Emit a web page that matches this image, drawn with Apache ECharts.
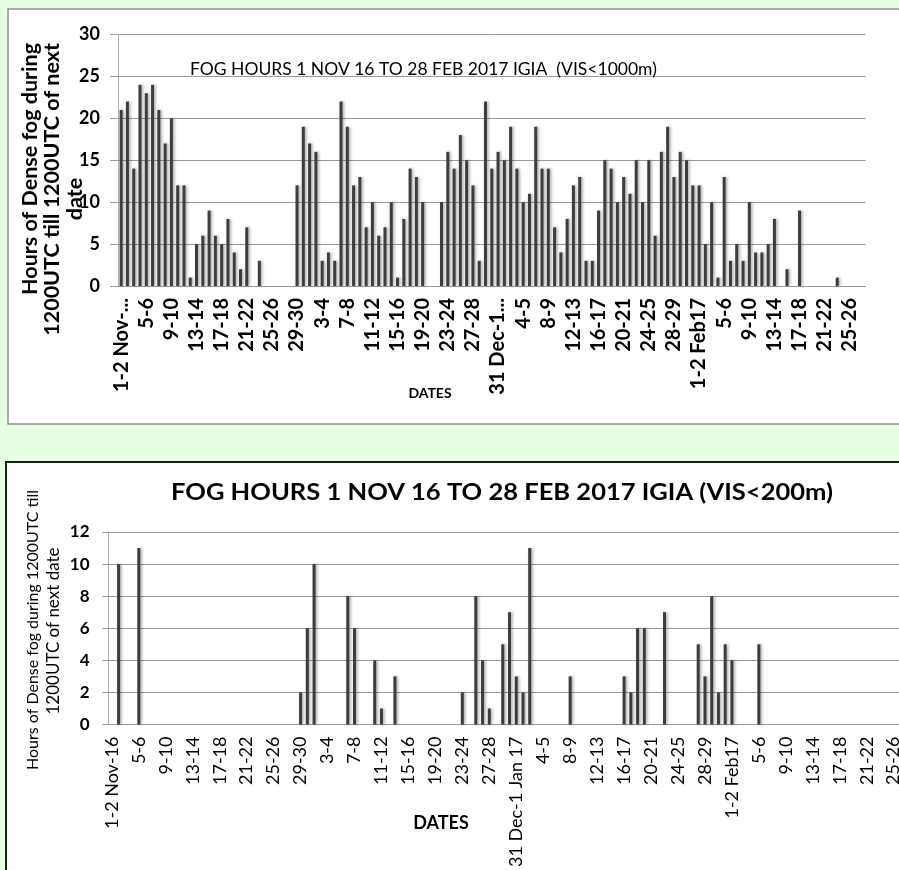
<!DOCTYPE html>
<html>
<head>
<meta charset="utf-8">
<script src="https://cdn.jsdelivr.net/npm/echarts@6/dist/echarts.min.js"></script>
<style>
  html, body { margin: 0; padding: 0; background: #e6fde4; overflow: hidden; }
  #chart { width: 915px; height: 870px; }
</style>
</head>
<body>
<div id="chart"></div>
<script>
// Night-by-night categories: "d-(d+1)" from 1 Nov 2016 to 27-28 Feb 2017
const monthSpans = [30, 31, 31, 27];
const monthLastDay = [30, 31, 31, 28];
const categories = [];
monthSpans.forEach(function (n, mi) {
  for (let d = 1; d <= n; d++) {
    categories.push(d + '-' + (d === monthLastDay[mi] ? 1 : d + 1));
  }
});
categories[0] = '1-2 Nov-16';
categories[60] = '31 Dec-1 Jan 17';
categories[92] = '1-2 Feb17';

// Shortened tick labels on the upper panel
const upperTickText = { '1-2 Nov-16': '1-2 Nov-...', '31 Dec-1 Jan 17': '31 Dec-1...' };

// Fog hours with visibility below 1000 m
const fogHours1000 = [
  21, 22, 14, 24, 23, 24, 21, 17, 20, 12,
  12, 1, 5, 6, 9, 6, 5, 8, 4, 2,
  7, 0, 3, 0, 0, 0, 0, 0, 12, 19,
  17, 16, 3, 4, 3, 22, 19, 12, 13, 7,
  10, 6, 7, 10, 1, 8, 14, 13, 10, 0,
  0, 10, 16, 14, 18, 15, 12, 3, 22, 14,
  16, 15, 19, 14, 10, 11, 19, 14, 14, 7,
  4, 8, 12, 13, 3, 3, 9, 15, 14, 10,
  13, 11, 15, 10, 15, 6, 16, 19, 13, 16,
  15, 12, 12, 5, 10, 1, 13, 3, 5, 3,
  10, 4, 4, 5, 8, 0, 2, 0, 9, 0,
  0, 0, 0, 0, 1, 0, 0, 0, 0
];

// Fog hours with visibility below 200 m
const fogHours200 = [
  0, 10, 0, 0, 11, 0, 0, 0, 0, 0,
  0, 0, 0, 0, 0, 0, 0, 0, 0, 0,
  0, 0, 0, 0, 0, 0, 0, 0, 2, 6,
  10, 0, 0, 0, 0, 8, 6, 0, 0, 4,
  1, 0, 3, 0, 0, 0, 0, 0, 0, 0,
  0, 0, 2, 0, 8, 4, 1, 0, 5, 7,
  3, 2, 11, 0, 0, 0, 0, 0, 3, 0,
  0, 0, 0, 0, 0, 0, 3, 2, 6, 6,
  0, 0, 7, 0, 0, 0, 0, 5, 3, 8,
  2, 5, 4, 0, 0, 0, 5, 0, 0, 0,
  0, 0, 0, 0, 0, 0, 0, 0, 0, 0,
  0, 0, 0, 0, 0, 0, 0, 0, 0
];

const upperTitle = 'FOG HOURS 1 NOV 16 TO 28 FEB 2017 IGIA  (VIS<1000m)';
const lowerTitle = 'FOG HOURS 1 NOV 16 TO 28 FEB 2017 IGIA (VIS<200m)';
const upperYName = ['Hours of Dense fog during', '1200UTC till 1200UTC of next', 'date'];
const lowerYName = ['Hours of Dense fog during 1200UTC till', '1200UTC of next date'];
const xName = 'DATES';

const FONT = 'Lato, "Open Sans", sans-serif';
const barStyle = {
  color: '#3d3d3d',
  shadowColor: 'rgba(0,0,0,0.35)',
  shadowBlur: 3,
  shadowOffsetX: 1.5
};

function vText(text, x, y, font, align) {
  return {
    type: 'text', x: x, y: y, rotation: Math.PI / 2, z: 50,
    style: { text: text, font: font, fill: '#000', align: align, verticalAlign: 'middle' }
  };
}

const chart = echarts.init(document.getElementById('chart'));
chart.setOption({
  animation: false,
  backgroundColor: '#e6fde4',
  graphic: [
    { type: 'rect', z: -10, shape: { x: 8, y: 9, width: 920, height: 415 },
      style: { fill: '#ffffff', stroke: '#8e8e8e', lineWidth: 1.5 } },
    { type: 'rect', z: -10, shape: { x: 6, y: 462, width: 920, height: 420 },
      style: { fill: '#ffffff', stroke: '#1c1c1c', lineWidth: 2 } },
    { type: 'text', x: 190, y: 69, z: 50,
      style: { text: upperTitle, font: '17.5px ' + FONT, fill: '#000', align: 'left', verticalAlign: 'middle' } },
    { type: 'text', x: 502, y: 493, z: 50, scaleX: 1.16,
      style: { text: lowerTitle, font: 'bold 22px ' + FONT, fill: '#000', align: 'center', verticalAlign: 'middle' } },
    vText(upperYName[0], 30, 43, 'bold 21.5px ' + FONT, 'right'),
    vText(upperYName[1], 52, 43, 'bold 21.5px ' + FONT, 'right'),
    vText(upperYName[2], 75, 199, 'bold 21.5px ' + FONT, 'center'),
    vText(lowerYName[0], 33, 630, '16px ' + FONT, 'center'),
    vText(lowerYName[1], 54, 631, '17px ' + FONT, 'center'),
    { type: 'text', x: 430, y: 393, z: 50,
      style: { text: xName, font: 'bold 14px ' + FONT, fill: '#000', align: 'center', verticalAlign: 'middle' } },
    { type: 'text', x: 441, y: 823, z: 50,
      style: { text: xName, font: 'bold 18px ' + FONT, fill: '#000', align: 'center', verticalAlign: 'middle' } }
  ],
  grid: [
    { left: 118, top: 34.5, width: 747.5, height: 251.5 },
    { left: 108.5, top: 532, width: 802, height: 194 }
  ],
  xAxis: [
    {
      type: 'category', gridIndex: 0, data: categories,
      axisLine: { lineStyle: { color: '#9a9a9a' } },
      axisTick: { interval: 0, length: 5, lineStyle: { color: '#9a9a9a' } },
      axisLabel: {
        interval: 3, rotate: 90, margin: 12, color: '#000',
        fontFamily: FONT, fontWeight: 'bold', fontSize: 20,
        formatter: function (v) { return upperTickText[v] || v; }
      }
    },
    {
      type: 'category', gridIndex: 1, data: categories,
      axisLine: { lineStyle: { color: '#9a9a9a' } },
      axisTick: { interval: 0, length: 5, lineStyle: { color: '#9a9a9a' } },
      axisLabel: {
        interval: 3, rotate: 90, margin: 12, color: '#000',
        fontFamily: FONT, fontSize: 18
      }
    }
  ],
  yAxis: [
    {
      type: 'value', gridIndex: 0, min: 0, max: 30, interval: 5,
      axisLine: { show: true, lineStyle: { color: '#b0b0b0' } },
      axisTick: { show: true, length: 8, lineStyle: { color: '#9a9a9a' } },
      splitLine: { lineStyle: { color: '#9a9a9a' } },
      axisLabel: { margin: 18, color: '#000', fontFamily: FONT, fontWeight: 'bold', fontSize: 18 }
    },
    {
      type: 'value', gridIndex: 1, min: 0, max: 12, interval: 2,
      axisLine: { show: true, lineStyle: { color: '#b0b0b0' } },
      axisTick: { show: true, length: 6, lineStyle: { color: '#9a9a9a' } },
      splitLine: { lineStyle: { color: '#9a9a9a' } },
      axisLabel: { margin: 19, color: '#000', fontFamily: FONT, fontWeight: 'bold', fontSize: 17 }
    }
  ],
  series: [
    { type: 'bar', xAxisIndex: 0, yAxisIndex: 0, data: fogHours1000, barWidth: 3, itemStyle: barStyle },
    { type: 'bar', xAxisIndex: 1, yAxisIndex: 1, data: fogHours200, barWidth: 3, itemStyle: barStyle }
  ]
});
</script>
</body>
</html>
